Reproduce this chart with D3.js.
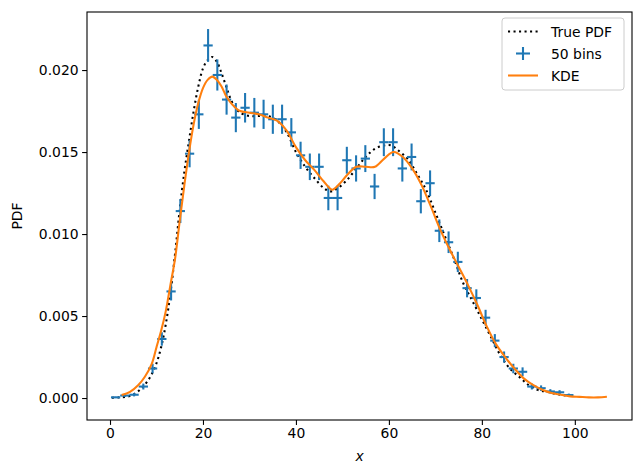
<!DOCTYPE html>
<html lang="en">

<head>
    <meta charset="UTF-8">
    <title>PDF, histogram and KDE</title>
    <script src="https://cdn.jsdelivr.net/npm/d3@7/dist/d3.min.js"></script>
    <style>
        body {
            margin: 0;
            background: #fff;
        }

        svg {
            display: block;
            font-family: "DejaVu Sans", sans-serif;
        }

        .line {
            fill: none;
            stroke-width: 2.08px;
        }
    </style>
</head>

<body>
    <script>
        // histogram (50 bins): bin centres, density, error
        const binX = [1.2, 3.19, 5.18, 7.17, 9.16, 11.15, 13.14, 15.13, 17.12, 19.11,
            21.1, 23.09, 25.08, 27.07, 29.06, 31.05, 33.04, 35.03, 37.02, 39.01,
            41.0, 42.99, 44.98, 46.97, 48.96, 50.95, 52.94, 54.93, 56.92, 58.91,
            60.9, 62.89, 64.88, 66.87, 68.86, 70.85, 72.84, 74.83, 76.82, 78.81,
            80.8, 82.79, 84.78, 86.77, 88.76, 90.75, 92.74, 94.73, 96.72, 98.71];
        const binY = [0.00004, 0.00015, 0.0002, 0.0007, 0.0018, 0.0036, 0.0065, 0.0114, 0.0149, 0.0173,
            0.0215, 0.0197, 0.0182, 0.0171, 0.0177, 0.0174, 0.0173, 0.0170, 0.0170, 0.0162,
            0.0148, 0.0141, 0.0141, 0.0122, 0.0122, 0.0145, 0.0140, 0.0146, 0.0129, 0.0156,
            0.0156, 0.0140, 0.0147, 0.0120, 0.0131, 0.0102, 0.0095, 0.0083, 0.0067, 0.0061,
            0.0049, 0.0035, 0.0025, 0.0018, 0.0016, 0.0007, 0.0006, 0.0004, 0.00035, 0.00018];
        const binErr = [0.00004, 0.00008, 0.0001, 0.00018, 0.00029, 0.00041, 0.00055, 0.00073, 0.00083, 0.00089,
            0.001, 0.00095, 0.00092, 0.00089, 0.0009, 0.0009, 0.00089, 0.00089, 0.00089, 0.00087,
            0.00083, 0.00081, 0.00081, 0.00075, 0.00075, 0.00082, 0.0008, 0.00082, 0.00077, 0.00085,
            0.00085, 0.0008, 0.00082, 0.00074, 0.00078, 0.00069, 0.00066, 0.00062, 0.00056, 0.00053,
            0.00048, 0.0004, 0.00034, 0.00029, 0.00027, 0.00018, 0.00017, 0.00014, 0.00013, 0.00009];
        const binHalfWidth = 0.995;

        // true pdf
        const pdfX = [0.4, 2, 4, 6, 8, 9.7, 11, 12, 13, 14, 15, 16, 17, 18, 19, 20, 21, 22, 23, 24,
            25, 26, 27, 28, 30, 32, 34, 36, 38, 40, 42, 44, 46, 47.5, 49, 51, 53, 55, 57, 59,
            60.5, 62, 64, 66, 68, 70, 72, 74, 76, 78, 80, 82, 84, 86, 88, 90, 92, 94, 96, 98, 99.6];
        const pdfY = [0.00002, 0.00004, 0.0001, 0.0004, 0.001, 0.0019, 0.0031, 0.0045, 0.0064, 0.0088,
            0.0115, 0.0138, 0.0157, 0.0175, 0.0190, 0.0201, 0.0206, 0.0208, 0.0205, 0.0198,
            0.0190, 0.0182, 0.0177, 0.0174, 0.0172, 0.0172, 0.0172, 0.0169, 0.0162, 0.0150,
            0.0141, 0.0134, 0.0128, 0.0126, 0.0128, 0.0133, 0.0140, 0.0147, 0.0152, 0.0154,
            0.0154, 0.0151, 0.0146, 0.0137, 0.0127, 0.0113, 0.0099, 0.0085, 0.0070, 0.0059,
            0.0048, 0.0037, 0.0026, 0.0018, 0.0013, 0.0008, 0.0005, 0.00038, 0.00025, 0.00016, 0.00012];

        // kde
        const kdeX = [2.5, 4.3, 6.1, 7.5, 9, 10, 11, 12, 13, 14, 15, 16, 17, 18, 19, 20, 21, 22, 23, 24,
            25, 26, 27, 28, 30, 32, 34, 36, 38, 40, 42, 44, 46, 47.8, 49.5, 51, 53, 55, 57, 59,
            61, 63, 65, 67, 69, 71, 73, 75, 77, 79, 81, 83, 85, 87, 89, 91, 93, 95, 97, 99,
            101, 103, 105, 106.9];
        const kdeY = [0.00018, 0.00038, 0.0008, 0.0013, 0.0021, 0.0031, 0.0041, 0.0053, 0.0069, 0.0085,
            0.0108, 0.0130, 0.0150, 0.0167, 0.0180, 0.0189, 0.0194, 0.0196, 0.0194, 0.0190,
            0.0184, 0.0180, 0.0177, 0.0175, 0.0174, 0.0173, 0.0171, 0.0169, 0.0163, 0.0153,
            0.0145, 0.0139, 0.0132, 0.0127, 0.0131, 0.0136, 0.0141, 0.0141, 0.0141, 0.0146,
            0.0150, 0.0147, 0.0140, 0.0130, 0.0117, 0.0103, 0.0091, 0.0080, 0.0069, 0.0057,
            0.0044, 0.0033, 0.0025, 0.0018, 0.0012, 0.0008, 0.0005, 0.0003, 0.0002, 0.0001,
            0.00007, 0.00004, 0.00004, 0.00008];

        const xTicks = [0, 20, 40, 60, 80, 100];
        const yTicks = [0, 0.005, 0.01, 0.015, 0.02];

        const width = 642, height = 475;
        const margin = { top: 12, right: 10, bottom: 55, left: 87 };
        const dots = "2.08 3.43";

        const svg = d3.select("body")
            .append("svg")
            .attr("width", width)
            .attr("height", height);

        const xscale = d3.scaleLinear()
            .domain([-4.95, 112.3])
            .range([margin.left, width - margin.right]);

        const yscale = d3.scaleLinear()
            .domain([-0.00134, 0.02354])
            .range([height - margin.bottom, margin.top]);

        // true pdf (dotted)
        const pdfLine = d3.line()
            .x((d, i) => xscale(pdfX[i]))
            .y(d => yscale(d))
            .curve(d3.curveCatmullRom);
        svg.append("path")
            .datum(pdfY)
            .attr("class", "line")
            .attr("stroke", "black")
            .attr("stroke-dasharray", dots)
            .attr("d", pdfLine);

        // error bars
        const bars = svg.append("g")
            .attr("stroke", "#1f77b4")
            .attr("stroke-width", 2.08);
        bars.selectAll(".hbar")
            .data(binY)
            .enter()
            .append("line")
            .attr("x1", (d, i) => xscale(binX[i] - binHalfWidth))
            .attr("x2", (d, i) => xscale(binX[i] + binHalfWidth))
            .attr("y1", d => yscale(d))
            .attr("y2", d => yscale(d));
        bars.selectAll(".vbar")
            .data(binY)
            .enter()
            .append("line")
            .attr("x1", (d, i) => xscale(binX[i]))
            .attr("x2", (d, i) => xscale(binX[i]))
            .attr("y1", (d, i) => yscale(d - binErr[i]))
            .attr("y2", (d, i) => yscale(d + binErr[i]));

        // kde
        const kdeLine = d3.line()
            .x((d, i) => xscale(kdeX[i]))
            .y(d => yscale(d))
            .curve(d3.curveCatmullRom);
        svg.append("path")
            .datum(kdeY)
            .attr("class", "line")
            .attr("stroke", "#ff7f0e")
            .attr("d", kdeLine);

        // frame
        svg.append("rect")
            .attr("x", margin.left)
            .attr("y", margin.top)
            .attr("width", width - margin.left - margin.right)
            .attr("height", height - margin.top - margin.bottom)
            .attr("fill", "none")
            .attr("stroke", "black")
            .attr("stroke-width", 1.1);

        // axes
        const xAxis = svg.append("g")
            .attr("transform", `translate(0,${height - margin.bottom})`)
            .call(d3.axisBottom(xscale).tickValues(xTicks).tickSize(4.9).tickPadding(3.5).tickFormat(d3.format("d")));
        const yAxis = svg.append("g")
            .attr("transform", `translate(${margin.left},0)`)
            .call(d3.axisLeft(yscale).tickValues(yTicks).tickSize(4.9).tickPadding(3.5).tickFormat(d3.format(".3f")));
        [xAxis, yAxis].forEach(a => {
            a.select(".domain").remove();
            a.selectAll("line").attr("stroke", "black").attr("stroke-width", 1.1);
            a.selectAll("text").attr("fill", "black").style("font-size", "13.9px").style("font-family", "DejaVu Sans");
        });

        // axis labels
        svg.append("text")
            .attr("x", (margin.left + width - margin.right) / 2)
            .attr("y", 461)
            .attr("text-anchor", "middle")
            .style("font-size", "13.9px")
            .style("font-style", "italic")
            .text("x");
        svg.append("text")
            .attr("transform", `translate(22,${(margin.top + height - margin.bottom) / 2}) rotate(-90)`)
            .attr("text-anchor", "middle")
            .style("font-size", "13.9px")
            .text("PDF");

        // legend
        const lg = svg.append("g");
        lg.append("rect")
            .attr("x", 502).attr("y", 18).attr("width", 122).attr("height", 72)
            .attr("rx", 3)
            .attr("fill", "white").attr("fill-opacity", 0.8)
            .attr("stroke", "#cccccc");
        lg.append("line")
            .attr("x1", 508).attr("x2", 538).attr("y1", 31.5).attr("y2", 31.5)
            .attr("stroke", "black").attr("stroke-width", 2.08).attr("stroke-dasharray", dots);
        lg.append("line")
            .attr("x1", 516).attr("x2", 530).attr("y1", 53.5).attr("y2", 53.5)
            .attr("stroke", "#1f77b4").attr("stroke-width", 2.08);
        lg.append("line")
            .attr("x1", 523).attr("x2", 523).attr("y1", 47).attr("y2", 60)
            .attr("stroke", "#1f77b4").attr("stroke-width", 2.08);
        lg.append("line")
            .attr("x1", 508).attr("x2", 538).attr("y1", 75.5).attr("y2", 75.5)
            .attr("stroke", "#ff7f0e").attr("stroke-width", 2.08);
        const labels = ["True PDF", "50 bins", "KDE"];
        lg.selectAll(".lbl")
            .data(labels)
            .enter()
            .append("text")
            .attr("x", 551)
            .attr("y", (d, i) => 36.5 + i * 22)
            .style("font-size", "13.9px")
            .text(d => d);
    </script>
</body>

</html>
